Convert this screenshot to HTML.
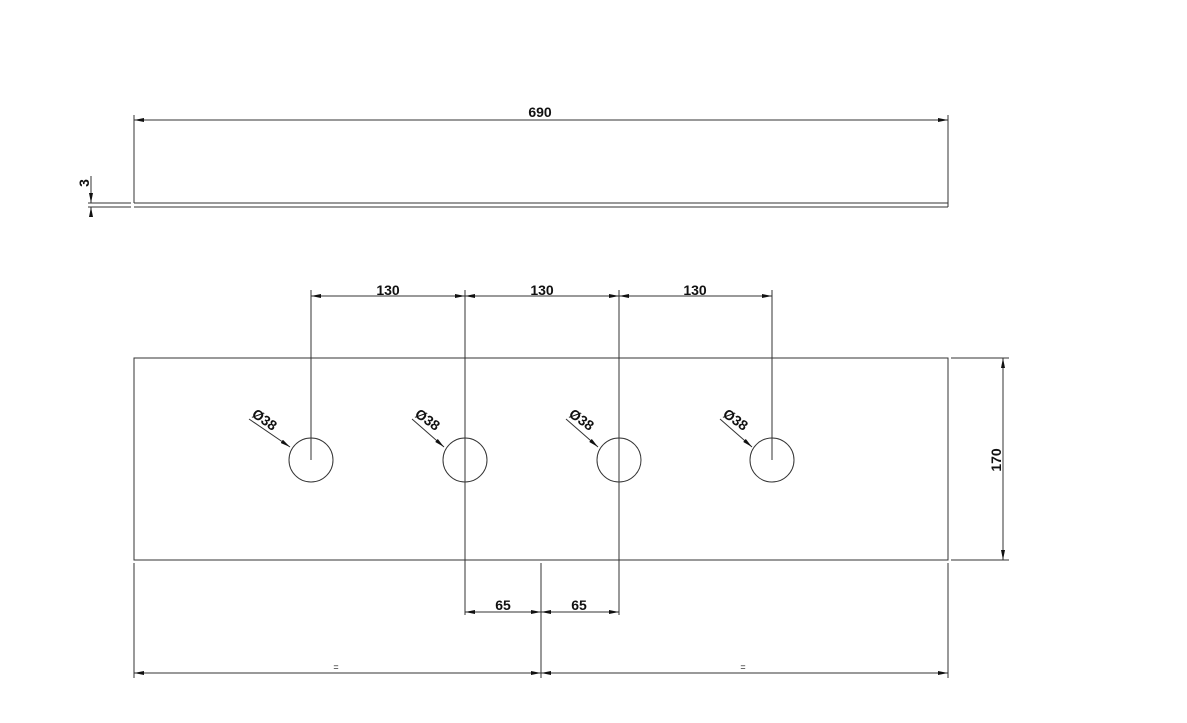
<!DOCTYPE html>
<html><head><meta charset="utf-8"><style>
html,body{margin:0;padding:0;background:#fff;}
svg{display:block;}
text{font-family:"Liberation Sans",sans-serif;font-weight:bold;font-size:14px;fill:#111;}
</style></head><body>
<svg width="1187" height="723" viewBox="0 0 1187 723" xmlns="http://www.w3.org/2000/svg">
<defs>
<marker id="a" viewBox="0 0 10 4" refX="10" refY="2" markerWidth="10" markerHeight="4" orient="auto-start-reverse" markerUnits="userSpaceOnUse"><path d="M0,0 L10,2 L0,4 z" fill="#111"/></marker>
</defs>
<g stroke="#333" stroke-width="1" fill="none">
<!-- top view -->
<line x1="88" y1="203" x2="131" y2="203"/><line x1="88" y1="207" x2="131" y2="207"/>
<line x1="134" y1="203" x2="948" y2="203"/><line x1="134" y1="207" x2="948" y2="207"/>
<line x1="948" y1="203" x2="948" y2="207"/>
<line x1="134" y1="115" x2="134" y2="203"/><line x1="948" y1="115" x2="948" y2="203"/>
<line x1="134" y1="120" x2="948" y2="120" marker-start="url(#a)" marker-end="url(#a)"/>
<line x1="91" y1="176" x2="91" y2="203" marker-end="url(#a)"/>
<line x1="91" y1="217" x2="91" y2="207" marker-end="url(#a)"/>
<!-- plate -->
<rect x="134" y="358" width="814" height="202"/>
<circle cx="311" cy="460" r="22"/><circle cx="465" cy="460" r="22"/>
<circle cx="619" cy="460" r="22"/><circle cx="772" cy="460" r="22"/>
<!-- 130 dims -->
<line x1="311" y1="290" x2="311" y2="460"/>
<line x1="465" y1="290" x2="465" y2="615"/>
<line x1="619" y1="290" x2="619" y2="615"/>
<line x1="772" y1="290" x2="772" y2="460"/>
<line x1="311" y1="296" x2="465" y2="296" marker-start="url(#a)" marker-end="url(#a)"/>
<line x1="465" y1="296" x2="619" y2="296" marker-start="url(#a)" marker-end="url(#a)"/>
<line x1="619" y1="296" x2="772" y2="296" marker-start="url(#a)" marker-end="url(#a)"/>
<!-- 170 -->
<line x1="951" y1="358" x2="1009" y2="358"/><line x1="951" y1="560" x2="1009" y2="560"/>
<line x1="1003" y1="358" x2="1003" y2="560" marker-start="url(#a)" marker-end="url(#a)"/>
<!-- 65 -->
<line x1="541" y1="563" x2="541" y2="678"/>
<line x1="465" y1="612" x2="541" y2="612" marker-start="url(#a)" marker-end="url(#a)"/>
<line x1="541" y1="612" x2="619" y2="612" marker-start="url(#a)" marker-end="url(#a)"/>
<!-- bottom = -->
<line x1="134" y1="563" x2="134" y2="678"/><line x1="948" y1="563" x2="948" y2="678"/>
<line x1="134" y1="673" x2="541" y2="673" marker-start="url(#a)" marker-end="url(#a)"/>
<line x1="541" y1="673" x2="948" y2="673" marker-start="url(#a)" marker-end="url(#a)"/>
<!-- leaders -->
<line x1="249" y1="419" x2="290" y2="447" marker-end="url(#a)"/>
<line x1="412" y1="419" x2="444" y2="447" marker-end="url(#a)"/>
<line x1="566" y1="419" x2="598" y2="447" marker-end="url(#a)"/>
<line x1="720" y1="419" x2="752" y2="447" marker-end="url(#a)"/>
</g>
<text x="540" y="117" text-anchor="middle">690</text>
<text transform="translate(89,183) rotate(-90)" text-anchor="middle">3</text>
<text x="388" y="295" text-anchor="middle">130</text>
<text x="542" y="295" text-anchor="middle">130</text>
<text x="695" y="295" text-anchor="middle">130</text>
<text transform="translate(1001,460) rotate(-90)" text-anchor="middle">170</text>
<text x="503" y="610" text-anchor="middle">65</text>
<text x="579" y="610" text-anchor="middle">65</text>
<text x="336" y="670" text-anchor="middle" style="font-size:9px;font-weight:normal">=</text>
<text x="743" y="670" text-anchor="middle" style="font-size:9px;font-weight:normal">=</text>
<g>
<text transform="translate(251,416) rotate(35)">Ø38</text>
<text transform="translate(414,416) rotate(35)">Ø38</text>
<text transform="translate(568,416) rotate(35)">Ø38</text>
<text transform="translate(722,416) rotate(35)">Ø38</text>
</g>
</svg>
</body></html>
